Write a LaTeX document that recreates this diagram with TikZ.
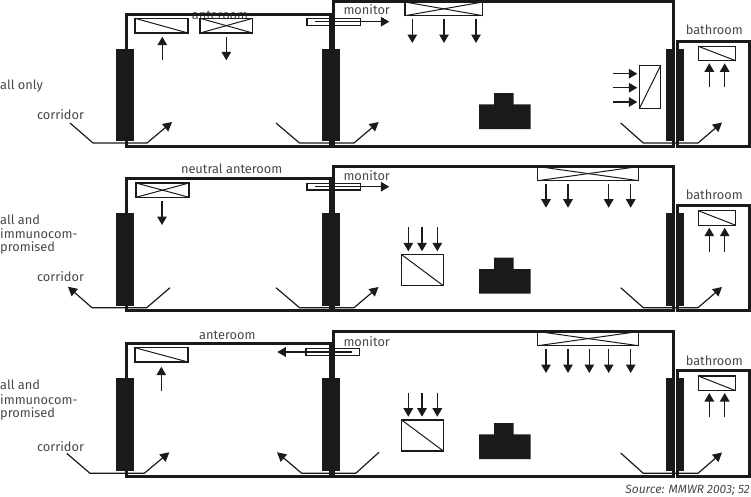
\documentclass[tikz,border=0pt]{standalone}
\usepackage{fontspec}
\setmainfont{Fira Sans}
\usetikzlibrary{arrows.meta}
\definecolor{ink}{HTML}{1A1A1A}
\definecolor{lettering}{HTML}{484848}
\tikzset{
  wall/.style={draw=ink,line width=3pt},
  doorbar/.style={fill=ink,draw=none},
  bedshape/.style={fill=ink,draw=none},
  filterbox/.style={draw=ink,line width=1.4pt},
  filterline/.style={draw=ink,line width=1pt},
  airflow/.style={draw=ink,line width=1.4pt,-{Triangle[length=8.5pt,width=9.5pt]}},
  swing/.style={draw=ink,line width=1.2pt},
  swingarrow/.style={swing,-{Triangle[length=9pt,width=9.5pt]}},
  swingback/.style={swing,{Triangle[length=9pt,width=9.5pt]}-},
  lbl/.style={inner sep=0pt,text=lettering,font=\fontsize{12.8}{15}\selectfont},
  sidelbl/.style={lbl,anchor=west}
}
\begin{document}
\begin{tikzpicture}[x=1pt,y=-1pt]
\useasboundingbox (0,0) rectangle (751,496);

\node (anteroomA) [lbl] at (220,15.7) {anteroom};
\node (monitorA) [lbl] at (366.7,10) {monitor};
\node (bathroomA) [lbl] at (714.3,29.3) {bathroom};
\node (groupA) [sidelbl] at (0,85.7) {all only};
\node (corridorA) [lbl] at (60.5,114.7) {corridor};
\draw[wall] (126,14) rectangle (330,146);
\draw[wall] (333.5,1.5) rectangle (673,146);
\draw[wall] (677,41) rectangle (749,146);
\fill[doorbar] (116,49) rectangle (134,141);
\fill[doorbar] (322,49) rectangle (340,141);
\fill[doorbar] (666,49) rectangle (674,141);
\fill[doorbar] (677,49) rectangle (684,141);
\fill[bedshape] (479,104.3) -- (494,104.3) -- (494,93) -- (513.7,93) -- (513.7,104.3) -- (530.7,104.3) -- (530.7,129) -- (479,129) -- cycle;
\draw[filterbox] (135,18.3) rectangle (188,33);
\draw[filterline] (135,18.3) -- (188,33);
\draw[filterbox] (200,18.3) rectangle (252.7,33);
\draw[filterline] (200,18.3) -- (252.7,33);
\draw[filterline] (200,33) -- (252.7,18.3);
\draw[airflow] (162.3,60.3) -- (162.3,36.7);
\draw[airflow] (226.3,36.7) -- (226.3,60.3);
\draw[filterbox] (307,18.7) rectangle (360.3,25.3);
\draw[airflow] (315,21.7) -- (389.3,21.7);
\draw[filterbox] (405,2) rectangle (482.7,15.7);
\draw[filterline] (405,2) -- (482.7,15.7);
\draw[filterline] (405,15.7) -- (482.7,2);
\draw[airflow] (412.3,19) -- (412.3,43);
\draw[airflow] (444,19) -- (444,43);
\draw[airflow] (476,19) -- (476,43);
\draw[filterbox] (639.3,65.3) rectangle (660.7,108.7);
\draw[filterline] (639.3,108.7) -- (660.7,65.3);
\draw[airflow] (613,73.7) -- (637.3,73.7);
\draw[airflow] (613,87.7) -- (637.3,87.7);
\draw[airflow] (613,102) -- (637.3,102);
\draw[filterbox] (698.3,46.3) rectangle (735.7,60.7);
\draw[filterline] (698.3,46.3) -- (735.7,60.7);
\draw[airflow] (709.3,87) -- (709.3,63.3);
\draw[airflow] (724.7,87) -- (724.7,63.3);
\draw[swingarrow] (70,123) -- (93,143) -- (147,143) -- (172,122);
\draw[swingarrow] (276,123) -- (299.5,143) -- (354,143) -- (378.7,122);
\draw[swingarrow] (620.7,123) -- (643.3,143) -- (698,143) -- (722,122.5);

\node (anteroomB) [lbl] at (231.7,169) {neutral anteroom};
\node (monitorB) [lbl] at (366.7,175.7) {monitor};
\node (bathroomB) [lbl] at (714.3,194.7) {bathroom};
\node (groupB1) [sidelbl] at (0,219.7) {all and};
\node (groupB2) [sidelbl] at (0,234) {immunocom-};
\node (groupB3) [sidelbl] at (0,247.7) {promised};
\node (corridorB) [lbl] at (60.5,277) {corridor};
\draw[wall] (126,178.5) rectangle (330,310.7);
\draw[wall] (333.5,166) rectangle (673,310.7);
\draw[wall] (677,205) rectangle (749,310.7);
\fill[doorbar] (116,213) rectangle (134,306);
\fill[doorbar] (322,213) rectangle (340,306);
\fill[doorbar] (666,213) rectangle (674,306);
\fill[doorbar] (677,213) rectangle (684,306);
\fill[bedshape] (479,269) -- (494,269) -- (494,257.7) -- (513.7,257.7) -- (513.7,269) -- (530.7,269) -- (530.7,293.7) -- (479,293.7) -- cycle;
\draw[filterbox] (136,183) rectangle (189,197.3);
\draw[filterline] (136,183) -- (189,197.3);
\draw[filterline] (136,197.3) -- (189,183);
\draw[airflow] (162,201) -- (162,225);
\draw[filterbox] (307,183.7) rectangle (360.3,190);
\draw[airflow] (315,186.7) -- (389.3,186.7);
\draw[filterbox] (537.7,166.5) rectangle (638.7,180.7);
\draw[filterline] (537.7,166.5) -- (638.7,180.7);
\draw[filterline] (537.7,180.7) -- (638.7,166.5);
\draw[airflow] (546,183.7) -- (546,207.7);
\draw[airflow] (568,183.7) -- (568,207.7);
\draw[airflow] (608.7,183.7) -- (608.7,207.7);
\draw[airflow] (630.7,183.7) -- (630.7,207.7);
\draw[filterbox] (401.7,254.7) rectangle (443.3,285.7);
\draw[filterline] (401.7,254.7) -- (443.3,285.7);
\draw[airflow] (408.3,227.3) -- (408.3,251.3);
\draw[airflow] (422,227.3) -- (422,251.3);
\draw[airflow] (437.3,227.3) -- (437.3,251.3);
\draw[filterbox] (698.3,210.7) rectangle (735.7,225.3);
\draw[filterline] (698.3,210.7) -- (735.7,225.3);
\draw[airflow] (709.3,251.7) -- (709.3,227.7);
\draw[airflow] (724.7,251.7) -- (724.7,227.7);
\draw[swingback] (68,286.7) -- (92,307.7) -- (146.7,307.7) -- (170,287.7);
\draw[swingarrow] (276,287.7) -- (299.5,307.7) -- (354,307.7) -- (378.5,287);
\draw[swingarrow] (620.7,287.7) -- (643.3,307.7) -- (698,307.7) -- (722,287);

\node (anteroomC) [lbl] at (227.3,335) {anteroom};
\node (monitorC) [lbl] at (366.7,342) {monitor};
\node (bathroomC) [lbl] at (714.3,360.7) {bathroom};
\node (groupC1) [sidelbl] at (0,385) {all and};
\node (groupC2) [sidelbl] at (0,399.3) {immunocom-};
\node (groupC3) [sidelbl] at (0,413.7) {promised};
\node (corridorC) [lbl] at (60.5,446.3) {corridor};
\draw[wall] (126,343.7) rectangle (330,476);
\draw[wall] (333.5,331) rectangle (673,476);
\draw[wall] (677,370.7) rectangle (749,476);
\fill[doorbar] (116,378.3) rectangle (134,471.3);
\fill[doorbar] (322,378.3) rectangle (340,471.3);
\fill[doorbar] (666,378.3) rectangle (674,471.3);
\fill[doorbar] (677,378.3) rectangle (684,471.3);
\fill[bedshape] (479,434.3) -- (494,434.3) -- (494,423) -- (513.7,423) -- (513.7,434.3) -- (530.7,434.3) -- (530.7,459) -- (479,459) -- cycle;
\draw[filterbox] (135,347.7) rectangle (188,362);
\draw[filterline] (135,347.7) -- (188,362);
\draw[airflow] (161.3,390.7) -- (161.3,366.7);
\draw[filterbox] (306,348.7) rectangle (359.3,355.3);
\draw[airflow] (351.7,352) -- (277.3,352);
\draw[filterbox] (537.7,331.5) rectangle (638.7,345.7);
\draw[filterline] (537.7,331.5) -- (638.7,345.7);
\draw[filterline] (537.7,345.7) -- (638.7,331.5);
\draw[airflow] (546,349) -- (546,373);
\draw[airflow] (568,349) -- (568,373);
\draw[airflow] (589.3,349) -- (589.3,373);
\draw[airflow] (608.7,349) -- (608.7,373);
\draw[airflow] (630.7,349) -- (630.7,373);
\draw[filterbox] (401.7,420) rectangle (443.3,451);
\draw[filterline] (401.7,420) -- (443.3,451);
\draw[airflow] (408.3,392.7) -- (408.3,416.7);
\draw[airflow] (422,392.7) -- (422,416.7);
\draw[airflow] (437.3,392.7) -- (437.3,416.7);
\draw[filterbox] (698.3,376) rectangle (735.7,390.7);
\draw[filterline] (698.3,376) -- (735.7,390.7);
\draw[airflow] (709.3,417) -- (709.3,393);
\draw[airflow] (724.7,417) -- (724.7,393);
\draw[swingarrow] (66.7,453.3) -- (90,473.3) -- (144.3,473.3) -- (169.3,452.3);
\draw[swingback] (277,452.3) -- (301.7,473.3) -- (355.7,473.3) -- (379,452.3);
\draw[swingarrow] (620.7,453) -- (643.3,473.3) -- (698,473.3) -- (722,452.5);

\node (source) [lbl,anchor=east,font=\fontsize{12}{14}\selectfont\itshape] at (750,490) {Source: MMWR 2003; 52};
\end{tikzpicture}
\end{document}
